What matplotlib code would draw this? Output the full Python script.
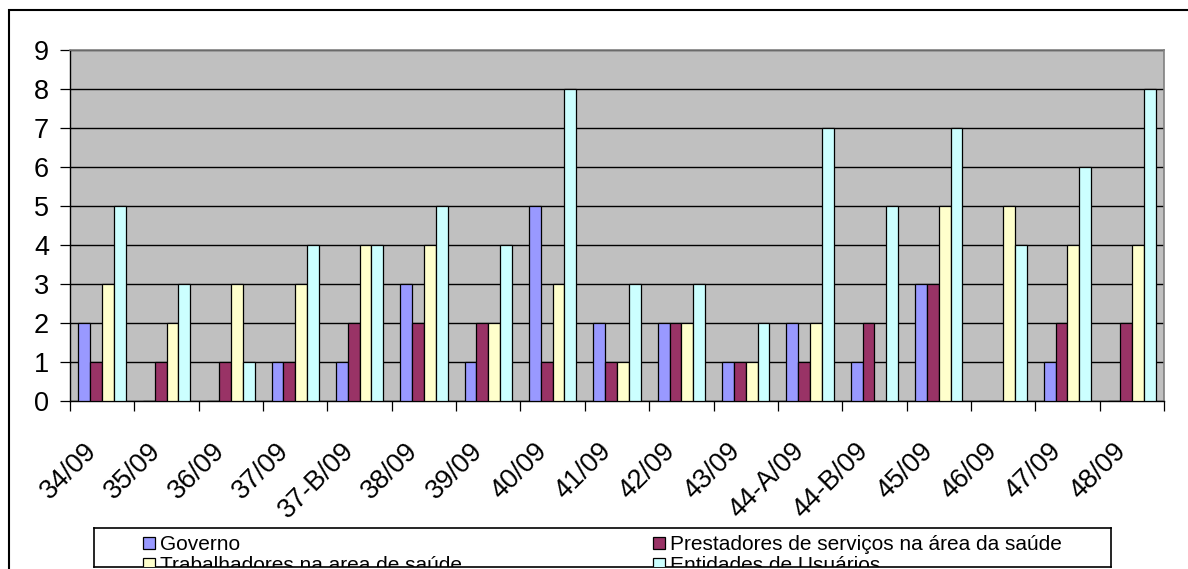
import matplotlib

matplotlib.use("Agg")
import matplotlib.pyplot as plt
import matplotlib.transforms as mtransforms
from matplotlib.patches import Rectangle
import numpy as np

plt.rcParams["font.family"] = ["Liberation Sans", "DejaVu Sans"]

# --- data ---------------------------------------------------------------------
processos = ["34/09", "35/09", "36/09", "37/09", "37-B/09", "38/09", "39/09",
             "40/09", "41/09", "42/09", "43/09", "44-A/09", "44-B/09", "45/09",
             "46/09", "47/09", "48/09"]
governo = [2, 0, 0, 1, 1, 3, 1, 5, 2, 2, 1, 2, 1, 3, 0, 1, 0]
prestadores = [1, 1, 1, 1, 2, 2, 2, 1, 1, 2, 1, 1, 2, 3, 0, 2, 2]
trabalhadores = [3, 2, 3, 3, 4, 4, 2, 3, 1, 2, 1, 2, 0, 5, 5, 4, 4]
entidades = [5, 3, 1, 4, 4, 5, 4, 8, 3, 3, 2, 7, 5, 7, 4, 6, 8]

series = [
    ("Governo", governo, "#9999FF"),
    ("Prestadores de serviços na área da saúde", prestadores, "#993366"),
    ("Trabalhadores na area de saúde", trabalhadores, "#FFFFCC"),
    ("Entidades de Usuários", entidades, "#CCFFFF"),
]

W, H = 1188, 569
fig = plt.figure(figsize=(W / 100, H / 100), dpi=100)
fig.patch.set_facecolor("white")

# outer chart frame (runs off the right and bottom edges)
fig.add_artist(Rectangle((9 / W, -0.2), 2, 1.2 - 10 / H, transform=fig.transFigure,
                         fill=False, ec="black", lw=1.5))

# plot area in pixel terms
x0, x1, ytop, ybot = 70, 1164, 50, 401
ax = fig.add_axes([x0 / W, 1 - ybot / H, (x1 - x0) / W, (ybot - ytop) / H])
ax.set_facecolor("#C0C0C0")

n = len(processos)
x = np.arange(n)
bw = 0.184
handles = []
for k, (name, vals, color) in enumerate(series):
    b = ax.bar(x + (k - 1.5) * bw, vals, width=bw, color=color, ec="black",
               lw=0.9, label=name, zorder=3)
    handles.append(b)

ax.set_xlim(-0.5, n - 0.5)
ax.set_ylim(0, 9)
ax.set_yticks(range(10))
ax.yaxis.grid(True, color="black", lw=1.0, zorder=1)
ax.set_axisbelow(True)

for s in ("left", "bottom"):
    ax.spines[s].set_color("black")
    ax.spines[s].set_linewidth(1.0)
for s in ("top", "right"):
    ax.spines[s].set_color("#808080")
    ax.spines[s].set_linewidth(1.2)

ax.tick_params(axis="y", direction="out", length=7, width=0.9, pad=8,
               labelsize=19.5, colors="black")
ax.set_xticks(x)
ax.set_xticks(np.arange(n + 1) - 0.5, minor=True)
ax.tick_params(axis="x", which="minor", direction="out", length=7, width=0.9)
ax.tick_params(axis="x", which="major", length=0, pad=0)
ax.set_xticklabels(processos, fontsize=19.5, rotation=45, ha="right",
                   va="top", rotation_mode="anchor")
shift = mtransforms.ScaledTranslation(-19 / 100, -37 / 100, fig.dpi_scale_trans)
for lbl in ax.get_xticklabels():
    lbl.set_transform(lbl.get_transform() + shift)

# legend box, clipped at the bottom like the original layout
ly0, ly1, lx0, lx1 = 528, 567, 94, 1111
lax = fig.add_axes([lx0 / W, 1 - ly1 / H, (lx1 - lx0) / W, (ly1 - ly0) / H])
lax.set_xticks([])
lax.set_yticks([])
for s in lax.spines.values():
    s.set_color("black")
    s.set_linewidth(1.2)
order = [0, 2, 1, 3]
leg = lax.legend([handles[i] for i in order], [series[i][0] for i in order],
                 ncol=2, loc="upper left", bbox_to_anchor=(42 / (lx1 - lx0), 1.0),
                 frameon=False, fontsize=15, handlelength=0.58, handleheight=0.55,
                 handletextpad=0.24, labelspacing=0.1, borderpad=0.35,
                 borderaxespad=0, columnspacing=9.15)
for a in list(leg.get_texts()) + list(leg.legend_handles):
    a.set_clip_path(lax.patch)

fig.savefig("out.png", dpi=100)
